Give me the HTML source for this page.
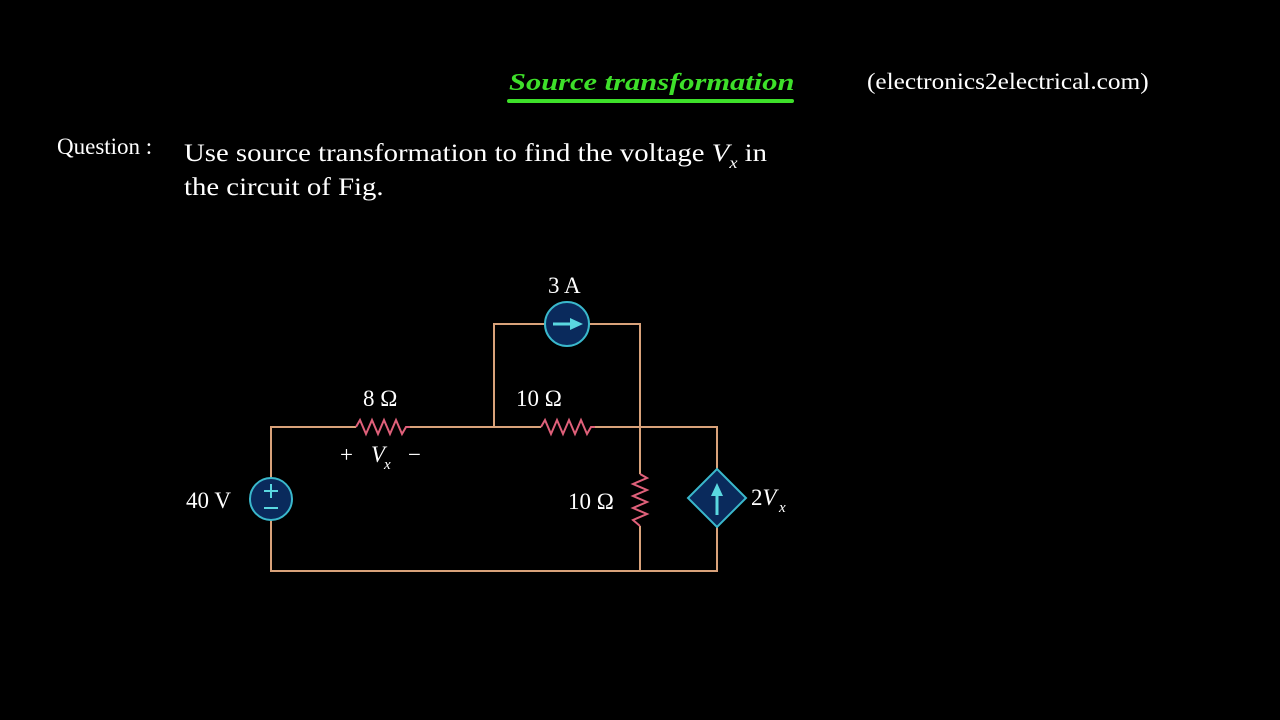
<!DOCTYPE html>
<html><head><style>
body{margin:0;background:#000;width:1280px;height:720px;overflow:hidden;position:relative;font-family:"Liberation Serif",serif;color:#fff}
.t{position:absolute;white-space:nowrap;transform-origin:0 0}
</style></head><body>
<div class="t" style="left:509px;top:70px;font-size:24px;font-weight:bold;font-style:italic;color:#3ee02a;transform:scaleX(1.27)">Source transformation</div>
<div style="position:absolute;left:507px;top:99px;width:287px;height:4px;background:#3ee02a;border-radius:2px"></div>
<div class="t" style="left:867px;top:69px;font-size:23px;transform:scaleX(1.1)">(electronics2electrical.com)</div>
<div class="t" style="left:57px;top:134px;font-size:23px">Question :</div>
<div class="t" style="left:184px;top:141px;font-size:25px;line-height:25px;transform:scaleX(1.15)">Use source transformation to find the voltage <i>V</i><i style="font-size:16px;position:relative;top:7px">x</i> in</div>
<div class="t" style="left:184px;top:175px;font-size:25px;line-height:25px;transform:scaleX(1.15)">the circuit of Fig.</div>
<svg width="1280" height="720" style="position:absolute;left:0;top:0">
<g stroke="#d9a27a" stroke-width="2" fill="none">
<path d="M271 478 V427 H356 M410 427 H541 M595 427 H717 V469 M717 527 V571 H271 V520"/>
<path d="M494 427 V324 H545 M589 324 H640 V474 M640 526 V571"/>
</g>
<g stroke="#e0607a" stroke-width="2" fill="none">
<polyline points="356,427 360,420 366,434 372,420 378,434 384,420 390,434 396,420 402,434 406,427 410,427"/>
<polyline points="541,427 545,420 551,434 557,420 563,434 569,420 575,434 581,420 587,434 591,427 595,427"/>
<polyline points="640,474 647,478 633,484 647,490 633,496 647,502 633,508 647,514 633,520 640,526"/>
</g>
<g fill="#0a2a5c" stroke="#3ab8cc" stroke-width="2">
<circle cx="567" cy="324" r="22"/>
<circle cx="271" cy="499" r="21"/>
<polygon points="717,469 746,498 717,527 688,498"/>
</g>
<g stroke="#5ad8e0" stroke-width="3" fill="#5ad8e0">
<line x1="553" y1="324" x2="572" y2="324"/><polygon points="583,324 570,318 570,330" stroke="none"/>
<line x1="717" y1="515" x2="717" y2="494"/><polygon points="717,483 711,496 723,496" stroke="none"/>
<line x1="264" y1="491" x2="278" y2="491" stroke-width="2"/><line x1="271" y1="484" x2="271" y2="498" stroke-width="2"/>
<line x1="264" y1="508" x2="278" y2="508" stroke-width="2"/>
</g>
<g fill="#fff" font-family="Liberation Serif,serif" font-size="23">
<text x="548" y="293">3 A</text>
<text x="363" y="406">8 Ω</text>
<text x="516" y="406">10 Ω</text>
<text x="186" y="508">40 V</text>
<text x="568" y="509">10 Ω</text>
<text x="340" y="462">+</text>
<text x="371" y="462" font-style="italic">V</text><text x="384" y="469" font-size="15" font-style="italic">x</text>
<text x="408" y="462">−</text>
<text x="751" y="505">2<tspan font-style="italic">V</tspan></text><text x="779" y="512" font-size="15" font-style="italic">x</text>
</g>
</svg>
</body></html>
